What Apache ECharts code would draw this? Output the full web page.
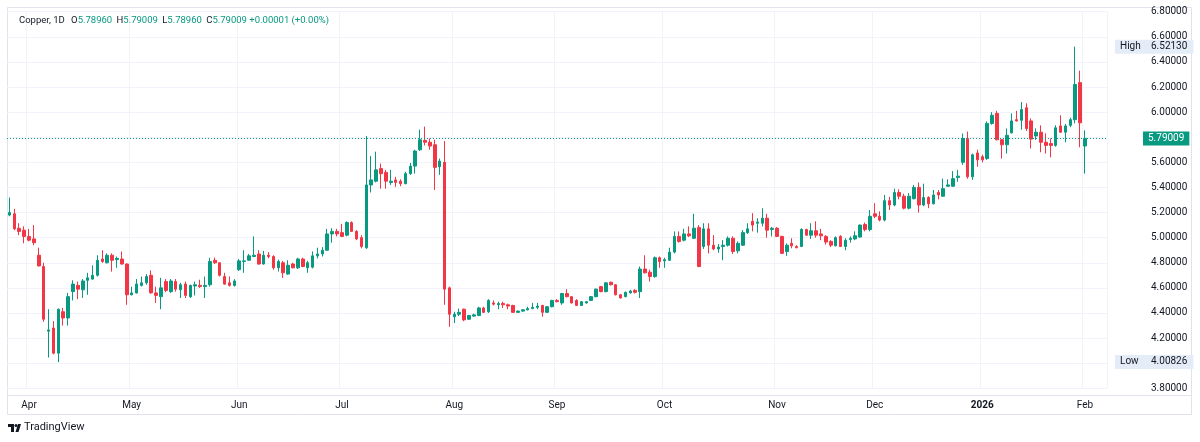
<!DOCTYPE html>
<html>
<head>
<meta charset="utf-8">
<script src="https://cdn.jsdelivr.net/npm/echarts@6/dist/echarts.min.js"></script>
<style>
  html, body { margin: 0; padding: 0; background: #fff; }
  #main { width: 1200px; height: 442px; }
</style>
</head>
<body>
<div id="main"></div>
<script>
// daily OHLC, 26 Mar 2025 .. 2 Feb 2026
var openPx = [
  5.18, 5.19, 5.075, 5.06, 5.01, 4.99, 4.86, 4.77, 4.255, 4.28,
  4.08, 4.41, 4.36, 4.57, 4.62, 4.585, 4.66, 4.67, 4.70, 4.83,
  4.80, 4.86, 4.825, 4.83, 4.79, 4.545, 4.56, 4.62, 4.64, 4.70,
  4.56, 4.53, 4.65, 4.57, 4.65, 4.585, 4.63, 4.53, 4.615, 4.62,
  4.61, 4.625, 4.82, 4.80, 4.69, 4.64, 4.62, 4.745, 4.81, 4.82,
  4.85, 4.87, 4.79, 4.86, 4.85, 4.76, 4.80, 4.71, 4.79, 4.76,
  4.83, 4.76, 4.765, 4.855, 4.87, 4.90, 5.03, 5.05, 5.04, 5.02,
  5.12, 5.05, 5.00, 4.92, 5.42, 5.45, 5.55, 5.52, 5.44, 5.46,
  5.45, 5.43, 5.51, 5.57, 5.70, 5.775, 5.76, 5.74, 5.565, 5.60,
  4.60, 4.37, 4.39, 4.43, 4.35, 4.375, 4.38, 4.44, 4.41, 4.48,
  4.465, 4.475, 4.465, 4.46, 4.405, 4.415, 4.425, 4.435, 4.445, 4.46,
  4.405, 4.45, 4.50, 4.48, 4.555, 4.53, 4.50, 4.46, 4.48, 4.50,
  4.53, 4.61, 4.57, 4.645, 4.625, 4.545, 4.53, 4.56, 4.58, 4.57,
  4.75, 4.725, 4.69, 4.84, 4.815, 4.82, 4.885, 5.01, 4.98, 5.03,
  4.995, 5.08, 4.93, 5.07, 4.94, 4.91, 4.93, 4.94, 4.995, 4.895,
  4.94, 5.04, 5.13, 5.115, 5.115, 5.155, 5.065, 5.075, 5.01, 4.89,
  4.955, 4.93, 4.93, 5.065, 5.02, 5.055, 5.03, 5.01, 4.97, 4.935,
  5.01, 4.93, 4.985, 4.99, 5.005, 5.105, 5.065, 5.19, 5.17, 5.14,
  5.295, 5.26, 5.36, 5.33, 5.235, 5.31, 5.40, 5.26, 5.32, 5.27,
  5.36, 5.33, 5.41, 5.41, 5.48, 5.60, 5.79, 5.485, 5.675, 5.645,
  5.63, 5.91, 5.99, 5.78, 5.74, 5.835, 5.94, 5.935, 6.035, 5.93,
  5.81, 5.84, 5.76, 5.75, 5.735, 5.89, 5.84, 5.895, 5.94, 6.235,
  5.73
];
var closePx = [
  5.20, 5.07, 5.05, 5.01, 4.98, 4.96, 4.775, 4.35, 4.265, 4.08,
  4.43, 4.36, 4.53, 4.63, 4.59, 4.655, 4.68, 4.70, 4.82, 4.81,
  4.86, 4.82, 4.835, 4.79, 4.545, 4.56, 4.63, 4.64, 4.69, 4.56,
  4.54, 4.60, 4.58, 4.655, 4.59, 4.625, 4.54, 4.62, 4.625, 4.61,
  4.62, 4.81, 4.80, 4.70, 4.63, 4.62, 4.655, 4.815, 4.815, 4.855,
  4.86, 4.79, 4.86, 4.85, 4.76, 4.81, 4.72, 4.78, 4.76, 4.83,
  4.77, 4.80, 4.855, 4.87, 4.90, 5.03, 5.05, 5.03, 5.01, 5.12,
  5.05, 4.99, 4.93, 5.42, 5.46, 5.54, 5.51, 5.45, 5.45, 5.44,
  5.43, 5.51, 5.57, 5.69, 5.78, 5.76, 5.73, 5.56, 5.61, 4.59,
  4.39, 4.39, 4.405, 4.345, 4.38, 4.385, 4.44, 4.405, 4.50, 4.47,
  4.475, 4.465, 4.455, 4.405, 4.415, 4.425, 4.435, 4.445, 4.455, 4.405,
  4.45, 4.50, 4.49, 4.555, 4.53, 4.48, 4.46, 4.49, 4.49, 4.53,
  4.59, 4.57, 4.64, 4.625, 4.545, 4.52, 4.565, 4.575, 4.565, 4.75,
  4.72, 4.69, 4.84, 4.81, 4.825, 4.885, 5.01, 4.97, 5.03, 5.015,
  5.075, 4.77, 5.07, 4.94, 4.91, 4.925, 4.94, 4.995, 4.89, 4.955,
  5.04, 5.07, 5.10, 5.125, 5.155, 5.06, 5.075, 5.01, 4.875, 4.94,
  4.935, 4.92, 5.065, 5.02, 5.055, 5.02, 5.015, 4.965, 4.94, 5.00,
  4.93, 4.98, 4.995, 5.015, 5.10, 5.065, 5.17, 5.17, 5.14, 5.295,
  5.26, 5.36, 5.33, 5.235, 5.33, 5.40, 5.26, 5.32, 5.27, 5.34,
  5.34, 5.39, 5.42, 5.47, 5.49, 5.79, 5.485, 5.66, 5.62, 5.62,
  5.91, 5.975, 5.78, 5.74, 5.815, 5.93, 5.93, 6.02, 5.87, 5.785,
  5.84, 5.76, 5.735, 5.735, 5.875, 5.84, 5.89, 5.94, 6.22, 5.915,
  5.79009
];
var lowPx = [
  5.17, 5.06, 5.02, 4.955, 4.97, 4.94, 4.77, 4.33, 4.045, 4.07,
  4.00826, 4.30, 4.30, 4.50, 4.51, 4.52, 4.545, 4.665, 4.69, 4.80,
  4.795, 4.73, 4.76, 4.785, 4.465, 4.54, 4.555, 4.61, 4.625, 4.555,
  4.48, 4.43, 4.565, 4.56, 4.57, 4.52, 4.52, 4.52, 4.54, 4.60,
  4.52, 4.61, 4.79, 4.69, 4.625, 4.61, 4.61, 4.735, 4.72, 4.815,
  4.845, 4.785, 4.785, 4.835, 4.745, 4.73, 4.68, 4.705, 4.755, 4.75,
  4.765, 4.72, 4.755, 4.835, 4.85, 4.895, 4.96, 5.01, 5.005, 5.01,
  5.045, 4.98, 4.915, 4.91, 5.36, 5.44, 5.39, 5.39, 5.42, 5.405,
  5.41, 5.425, 5.50, 5.51, 5.69, 5.735, 5.70, 5.38, 5.50, 4.465,
  4.29, 4.32, 4.375, 4.335, 4.345, 4.37, 4.375, 4.40, 4.40, 4.46,
  4.43, 4.44, 4.43, 4.40, 4.40, 4.41, 4.42, 4.43, 4.43, 4.37,
  4.40, 4.445, 4.485, 4.465, 4.525, 4.475, 4.455, 4.455, 4.475, 4.495,
  4.525, 4.565, 4.565, 4.62, 4.54, 4.515, 4.525, 4.555, 4.555, 4.52,
  4.715, 4.65, 4.68, 4.76, 4.76, 4.815, 4.875, 4.96, 4.97, 5.005,
  4.99, 4.765, 4.91, 4.875, 4.90, 4.88, 4.82, 4.93, 4.87, 4.875,
  4.935, 5.03, 5.05, 5.04, 5.09, 5.00, 5.01, 5.005, 4.87, 4.855,
  4.915, 4.915, 4.925, 5.015, 4.99, 5.00, 4.98, 4.945, 4.925, 4.93,
  4.925, 4.90, 4.96, 4.98, 5.00, 5.05, 5.05, 5.155, 5.13, 5.13,
  5.22, 5.25, 5.305, 5.225, 5.225, 5.305, 5.20, 5.25, 5.235, 5.265,
  5.305, 5.325, 5.405, 5.405, 5.445, 5.58, 5.47, 5.46, 5.565, 5.60,
  5.62, 5.90, 5.775, 5.63, 5.67, 5.83, 5.925, 5.86, 5.85, 5.71,
  5.78, 5.68, 5.67, 5.64, 5.725, 5.835, 5.76, 5.88, 5.91, 5.72,
  5.51
];
var highPx = [
  5.32, 5.23, 5.115, 5.09, 5.07, 5.10, 4.92, 4.80, 4.43, 4.335,
  4.435, 4.44, 4.56, 4.66, 4.65, 4.67, 4.72, 4.78, 4.86, 4.90,
  4.875, 4.875, 4.85, 4.89, 4.795, 4.61, 4.67, 4.69, 4.71, 4.74,
  4.61, 4.68, 4.67, 4.67, 4.67, 4.64, 4.65, 4.625, 4.65, 4.665,
  4.69, 4.84, 4.84, 4.805, 4.72, 4.69, 4.67, 4.83, 4.90, 4.87,
  5.01, 4.90, 4.895, 4.885, 4.86, 4.825, 4.815, 4.82, 4.80, 4.84,
  4.84, 4.815, 4.89, 4.92, 4.925, 5.07, 5.075, 5.07, 5.11, 5.13,
  5.13, 5.06, 5.02, 5.81, 5.65, 5.685, 5.59, 5.54, 5.54, 5.485,
  5.465, 5.525, 5.595, 5.70, 5.86, 5.885, 5.79, 5.78, 5.63, 5.77,
  4.61, 4.41, 4.435, 4.435, 4.385, 4.395, 4.45, 4.45, 4.51, 4.50,
  4.49, 4.49, 4.475, 4.465, 4.42, 4.43, 4.45, 4.48, 4.48, 4.465,
  4.455, 4.505, 4.51, 4.56, 4.59, 4.535, 4.51, 4.495, 4.495, 4.535,
  4.595, 4.615, 4.645, 4.65, 4.63, 4.55, 4.57, 4.585, 4.59, 4.77,
  4.86, 4.745, 4.85, 4.85, 4.84, 4.92, 5.05, 5.05, 5.07, 5.09,
  5.19, 5.10, 5.115, 5.115, 5.02, 4.95, 4.98, 5.01, 5.01, 4.97,
  5.06, 5.115, 5.195, 5.155, 5.235, 5.19, 5.085, 5.085, 5.015, 4.955,
  4.995, 4.94, 5.075, 5.07, 5.115, 5.13, 5.07, 5.02, 4.98, 5.01,
  5.02, 4.995, 5.01, 5.05, 5.105, 5.12, 5.22, 5.275, 5.21, 5.34,
  5.325, 5.39, 5.385, 5.35, 5.355, 5.42, 5.44, 5.43, 5.33, 5.38,
  5.38, 5.47, 5.465, 5.53, 5.54, 5.83, 5.845, 5.67, 5.70, 5.66,
  5.925, 6.00, 6.01, 5.785, 5.87, 5.99, 6.01, 6.08, 6.07, 5.95,
  5.87, 5.895, 5.83, 5.79, 5.895, 5.975, 5.905, 5.955, 6.5213, 6.33,
  5.855
];

var lastPrice = 5.79009;
var rangeHigh = 6.52130;
var rangeLow = 4.00826;
var monthNames = ['Jan', 'Feb', 'Mar', 'Apr', 'May', 'Jun', 'Jul', 'Aug', 'Sep', 'Oct', 'Nov', 'Dec'];

// trading calendar: weekdays, market closed on these days; runs 4 days past the last bar
var closedDays = ['2025-04-18', '2025-12-25', '2026-01-01'];
var dates = [];
var d = new Date(Date.UTC(2025, 2, 26));
var lastDay = new Date(Date.UTC(2026, 1, 6));
while (d <= lastDay) {
    var s = d.toISOString().slice(0, 10);
    var wd = d.getUTCDay();
    if (wd !== 0 && wd !== 6 && closedDays.indexOf(s) < 0) dates.push(s);
    d.setUTCDate(d.getUTCDate() + 1);
}

var monthStart = {};
for (var i = 1; i < dates.length; i++) {
    if (dates[i].slice(5, 7) !== dates[i - 1].slice(5, 7)) monthStart[i] = true;
}

var ohlc = openPx.map(function (o, i) {
    return [o, closePx[i], lowPx[i], highPx[i]];
});

var UP = '#089981', DOWN = '#f23645', INK = '#131722', GRIDC = '#f0f3fa';
var FONT = 'Roboto';

// little boxed price tag on the right-hand scale
function priceTag(value, name, distance) {
    return {
        yAxis: value,
        lineStyle: { color: 'rgba(0,0,0,0)', width: 0 },
        label: {
            position: 'end', distance: distance,
            formatter: '{h|' + name + '}{v|' + value.toFixed(5) + '}',
            backgroundColor: '#e3ecf7',
            padding: [2, 6, 2, 5],
            rich: {
                h: { color: INK, fontSize: 10, fontFamily: FONT, width: 31 },
                v: { color: INK, fontSize: 10, fontFamily: FONT }
            }
        }
    };
}

var myChart = echarts.init(document.getElementById('main'));

var option = {
    animation: false,
    backgroundColor: '#fff',
    textStyle: { fontFamily: FONT },
    title: {
        left: 14,
        top: 11,
        text: '{n|Copper, 1D} {k|O}{v|5.78960} {k|H}{v|5.79009} {k|L}{v|5.78960} {k|C}{v|5.79009} {v|+0.00001 (+0.00%)}',
        textStyle: {
            fontSize: 9.5,
            fontWeight: 'normal',
            rich: {
                n: { color: INK, fontSize: 9.5, fontFamily: FONT, padding: [0, 2, 0, 0] },
                k: { color: INK, fontSize: 9.5, fontFamily: FONT, padding: [0, 0, 0, 2] },
                v: { color: UP, fontSize: 9.5, fontFamily: FONT }
            }
        }
    },
    grid: { left: 7, right: 93, top: 11.7, bottom: 53.7 },
    xAxis: {
        type: 'category',
        data: dates,
        boundaryGap: true,
        axisLine: { show: false },
        axisTick: { show: false },
        axisLabel: {
            interval: function (idx) { return !!monthStart[idx]; },
            margin: 12,
            fontSize: 10,
            color: INK,
            formatter: function (val) {
                var m = +val.slice(5, 7);
                return m === 1 ? '{y|' + val.slice(0, 4) + '}' : monthNames[m - 1];
            },
            rich: { y: { fontWeight: 'bold', fontSize: 10, color: INK } }
        },
        splitLine: {
            show: true,
            interval: function (idx) { return !!monthStart[idx]; },
            lineStyle: { color: GRIDC, width: 1 }
        }
    },
    yAxis: {
        type: 'value',
        position: 'right',
        min: 3.8,
        max: 6.8,
        interval: 0.2,
        axisLine: { show: false },
        axisTick: { show: false },
        axisLabel: {
            margin: 44,
            fontSize: 10,
            color: INK,
            formatter: function (v) { return v.toFixed(5); }
        },
        splitLine: { lineStyle: { color: GRIDC, width: 1 } }
    },
    series: [{
        type: 'candlestick',
        data: ohlc,
        barWidth: 3,
        itemStyle: {
            color: UP,
            color0: DOWN,
            borderColor: UP,
            borderColor0: DOWN,
            borderWidth: 1
        },
        markLine: {
            symbol: 'none',
            silent: true,
            data: [
                {
                    yAxis: lastPrice,
                    lineStyle: { color: UP, type: [1, 2], width: 1 },
                    label: {
                        position: 'end', distance: 36,
                        formatter: lastPrice.toFixed(5),
                        color: '#fff', backgroundColor: UP,
                        fontSize: 10, fontFamily: FONT,
                        padding: [2, 5, 2, 5]
                    }
                },
                priceTag(rangeHigh, 'High', 8),
                priceTag(rangeLow, 'Low', 8)
            ]
        }
    }],
    graphic: [
        // widget frame and the time-scale separator
        { type: 'rect', silent: true, z: -1, shape: { x: 7.5, y: 7.5, width: 1184, height: 407 },
          style: { fill: 'none', stroke: '#e0e3eb', lineWidth: 1 } },
        { type: 'line', silent: true, shape: { x1: 7.5, y1: 395.5, x2: 1191.5, y2: 395.5 },
          style: { stroke: '#e0e3eb', lineWidth: 1 } },
        // TradingView mark + name
        { type: 'rect', silent: true, shape: { x: 8, y: 424, width: 6, height: 3 }, style: { fill: INK } },
        { type: 'rect', silent: true, shape: { x: 11, y: 424, width: 3, height: 8 }, style: { fill: INK } },
        { type: 'circle', silent: true, shape: { cx: 16, cy: 425.5, r: 1.5 }, style: { fill: INK } },
        { type: 'polygon', silent: true, shape: { points: [[18, 424], [21, 424], [18.5, 432], [15.5, 432]] }, style: { fill: INK } },
        { type: 'text', silent: true, left: 24, top: 422,
          style: { text: 'TradingView', fill: INK, font: '11px Roboto' } }
    ]
};

myChart.setOption(option);
</script>
</body>
</html>
